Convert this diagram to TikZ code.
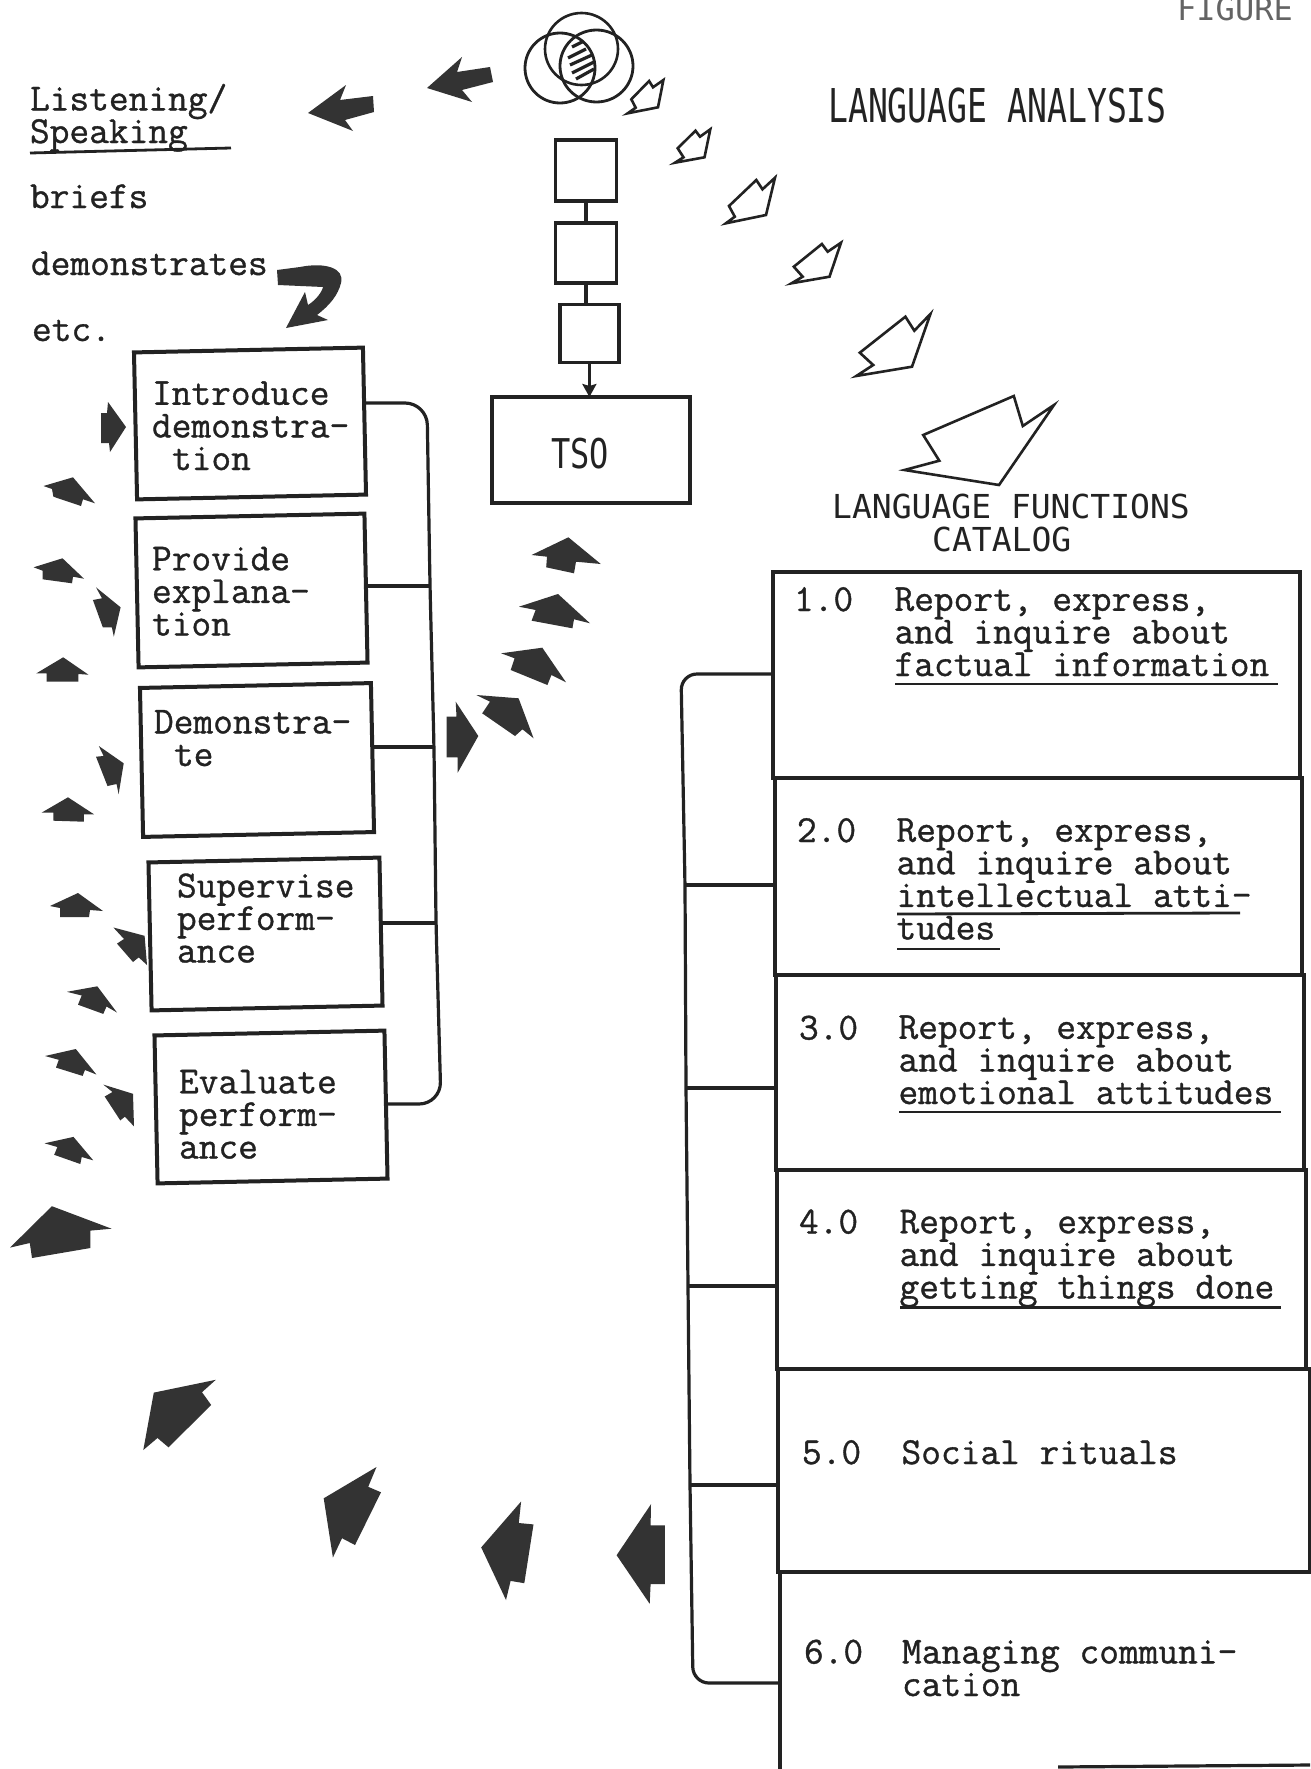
\documentclass[tikz,border=0pt]{standalone}
\usepackage{fontspec}
\usepackage{graphicx}
\usetikzlibrary{arrows.meta}
\setmonofont{Latin Modern Mono}[FakeBold=0.9]
\newfontfamily\headfont{DejaVu Sans Mono}
\definecolor{ink}{HTML}{222222}
\definecolor{arrowink}{HTML}{333333}
\newcommand{\twfont}{\ttfamily\fontsize{38.3}{32.6}\selectfont\lineskiplimit -100pt\relax}
\tikzset{
  x=1pt,y=-1pt,
  tw/.style={font=\twfont,text=ink,inner sep=0pt,outer sep=0pt,anchor=base west,align=left},
  head/.style={font=\headfont\fontsize{33}{33}\selectfont,text=ink,inner sep=0pt,anchor=base west},
  boxnode/.style={draw=ink,line width=4,inner sep=0pt,outer sep=0pt,rotate=1.2},
  smallbox/.style={draw=ink,line width=3.8,inner sep=0pt,outer sep=0pt},
  cellnode/.style={draw=ink,line width=3.2,inner sep=0pt,outer sep=0pt},
  wire/.style={draw=ink,line width=3.2},
  uline/.style={draw=ink,line width=2.8},
  solidarrow/.style={fill=arrowink,draw=none},
  openarrow/.style={draw=ink,fill=white,line width=2.6,line join=miter},
}
\begin{document}
\begin{tikzpicture}
\useasboundingbox (0,0) rectangle (1310,1769);
\fill[white] (0,0) rectangle (1310,1769);

% --- headings
\node[head,text=ink!70] (figure) at (1177,21) {\fontsize{32}{32}\selectfont FIGURE};
\node[head] (langanalysis) at (828,122) {\fontsize{46.6}{46.6}\selectfont\scalebox{0.71}[1]{LANGUAGE ANALYSIS}};
\node[head] (funcs) at (832,518) {LANGUAGE FUNCTIONS};
\node[head] (catalog) at (932,551) {CATALOG};

% --- left word list
\node[tw] (listening) at (30,143) {Listening/\\Speaking};
\draw[uline] (30,153) -- (231,148);
\node[tw] (briefs) at (30,208) {briefs};
\node[tw] (demos) at (31,275) {demonstrates};
\node[tw] (etc) at (32,341) {etc.};

% --- left boxes
\node[boxnode,minimum width=229,minimum height=147] (b1) at (250,423.5) {};
\node[boxnode,minimum width=229,minimum height=149] (b2) at (251.5,590.5) {};
\node[boxnode,minimum width=231,minimum height=149] (b3) at (257,760) {};
\node[boxnode,minimum width=231,minimum height=148] (b4) at (265.5,934) {};
\node[boxnode,minimum width=230,minimum height=148] (b5) at (271,1107) {};
\node[tw] (b1t) at (152,470) {Introduce\\demonstra-\\\hspace*{20pt}tion};
\node[tw] (b2t) at (152,635.5) {Provide\\explana-\\tion};
\node[tw] (b3t) at (154,766) {Demonstra-\\\hspace*{20pt}te};
\node[tw] (b4t) at (177,962.5) {Supervise\\perform-\\ance};
\node[tw] (b5t) at (179,1158.5) {Evaluate\\perform-\\ance};

% --- left bracket
\coordinate (busA) at (427,403);
\coordinate (bus2) at (430,586);
\coordinate (bus3) at (434,747);
\coordinate (bus4) at (436,923);
\coordinate (busB) at (441,1104);
\draw[wire,rounded corners=22pt] (b1.east |- busA) -- (busA) -- (bus2) -- (bus3) -- (bus4) -- (busB) -- (b5.east |- busB);
\draw[wire] (b2.east |- bus2) -- (bus2);
\draw[wire] (b3.east |- bus3) -- (bus3);
\draw[wire] (b4.east |- bus4) -- (bus4);

% --- centre chain
\node[smallbox,minimum width=61,minimum height=61] (s1) at (586,170.5) {};
\node[smallbox,minimum width=61,minimum height=60] (s2) at (586,253) {};
\node[smallbox,minimum width=59,minimum height=58] (s3) at (589.4,333.5) {};
\node[smallbox,minimum width=198,minimum height=106] (tso) at (590.7,450) {};
\node[head] (tsot) at (551,468) {\fontsize{41}{41}\selectfont\scalebox{0.78}[1]{TSO}};
\draw[wire] (s1.south) -- (s2.north);
\draw[wire] (s2.south) -- (s2.south |- s3.north);
\draw[wire,-{Stealth[length=13pt,width=14pt,inset=2pt]}] (s3.south) -- (s3.south |- tso.north);

% --- Venn sign
\begin{scope}
\clip (581.5,49) ellipse [x radius=36.5pt,y radius=36pt];
\clip (560,68) ellipse [x radius=35pt,y radius=35pt];
\clip (596.5,66) ellipse [x radius=36.5pt,y radius=36pt];
\draw[ink,line width=3.2] (572,47) -- (584,41);
\draw[ink,line width=3.2] (568,58) -- (586,49);
\draw[ink,line width=3.2] (570,65) -- (592,55);
\draw[ink,line width=3.2] (572,73) -- (594,62);
\draw[ink,line width=3.2] (576,79) -- (594,69);
\end{scope}
\draw[ink,line width=2.6] (581.5,49) ellipse [x radius=36.5pt,y radius=36pt];
\draw[ink,line width=2.8] (560,68) ellipse [x radius=35pt,y radius=35pt];
\draw[ink,line width=2.8] (596.5,66) ellipse [x radius=36.5pt,y radius=36pt];

% --- right table
\node[cellnode,minimum width=527,minimum height=206] (c1) at (1036.5,675) {};
\node[cellnode,minimum width=527,minimum height=197] (c2) at (1038.5,876.5) {};
\node[cellnode,minimum width=528,minimum height=195] (c3) at (1040,1072.5) {};
\node[cellnode,minimum width=529,minimum height=199] (c4) at (1041.5,1269.5) {};
\node[cellnode,minimum width=532,minimum height=203] (c5) at (1044,1470.5) {};
\node[cellnode,minimum width=550,minimum height=218] (c6) at (1055,1681) {};
\coordinate (botL) at (1058,1767);
\coordinate (botR) at (1310,1765);
\draw[wire] (botL) -- (botR);

\node[tw] (n1) at (794,611) {1.0};
\node[tw] (t1) at (894.5,676) {Report, express,\\and inquire about\\factual information};
\draw[uline] (895,684) -- (1278,684);
\node[tw] (n2) at (797,842) {2.0};
\node[tw] (t2) at (896.5,939.5) {Report, express,\\and inquire about\\intellectual atti-\\tudes};
\draw[uline] (897,914) -- (1240,913);
\draw[uline] (897,949) -- (1000,949);
\node[tw] (n3) at (799,1039.5) {3.0};
\node[tw] (t3) at (898.5,1104) {Report, express,\\and inquire about\\emotional attitudes};
\draw[uline] (899,1112) -- (1281,1112);
\node[tw] (n4) at (799,1233.5) {4.0};
\node[tw] (t4) at (899.5,1298.5) {Report, express,\\and inquire about\\getting things done};
\draw[uline] (900,1307.5) -- (1281,1307.5);
\node[tw] (n5) at (802,1464) {5.0};
\node[tw] (t5) at (901.5,1464) {Social rituals};
\node[tw] (n6) at (804,1663.5) {6.0};
\node[tw] (t6) at (902,1696) {Managing communi-\\cation};

% --- right bracket
\coordinate (r1) at (681,674);
\coordinate (r2) at (685,885);
\coordinate (r3) at (686,1088);
\coordinate (r4) at (688,1286);
\coordinate (r5) at (690,1485);
\coordinate (r6) at (693,1683);
\draw[wire,rounded corners=16pt] (c1.west |- r1) -- (r1) -- (r2) -- (r3) -- (r4) -- (r5) -- (r6) -- (c6.west |- r6);
\draw[wire] (c2.west |- r2) -- (r2);
\draw[wire] (c3.west |- r3) -- (r3);
\draw[wire] (c4.west |- r4) -- (r4);
\draw[wire] (c5.west |- r5) -- (r5);

% --- open arrows
\draw[openarrow] (627.7,113.3) -- (635.7,107.7) -- (631.3,99.3) -- (649.1,81) -- (653,87.3) -- (663.4,80) -- (658,107.3) -- cycle;
\draw[openarrow] (675,162.7) -- (683.5,157.3) -- (677.7,148.3) -- (695.5,130.7) -- (700,136.7) -- (710.3,129.3) -- (704.5,157.3) -- cycle;
\draw[openarrow] (725.9,223.3) -- (734.8,216.7) -- (729,206) -- (756.3,180) -- (762.5,189.3) -- (775,177.7) -- (766,215) -- cycle;
\draw[openarrow] (791.5,283.3) -- (802.7,276.7) -- (793.8,266.7) -- (821.9,244) -- (827.7,251.7) -- (841,242.7) -- (829.5,276.7) -- cycle;
\draw[openarrow] (856.3,376) -- (873.2,365) -- (859.8,352.7) -- (905.4,316.7) -- (914.3,330.7) -- (930.4,314) -- (912,366.7) -- cycle;
\draw[openarrow] (904.5,470) -- (939.3,460.7) -- (923.2,435) -- (1013.8,396) -- (1022.8,426) -- (1054,405) -- (999,485) -- cycle;

% --- solid arrows, top
\fill[solidarrow] (427,88) -- (462,57) -- (457,72) -- (490,67) -- (493,82) -- (462,90) -- (472,102) -- cycle;
\fill[solidarrow] (308,113) -- (346,85) -- (340,100) -- (373,96) -- (374,112) -- (345,120) -- (353,131) -- cycle;
\fill[solidarrow] (277,270) -- (300,267) .. controls (325,262) and (345,268) .. (341,283) .. controls (338,295) and (330,305) .. (317,315) -- (328,320) -- (286,328) -- (305,292) -- (308,305) .. controls (316,300) and (322,292) .. (323,287) -- (278,285) -- cycle;

% --- solid arrows, left
\fill[solidarrow] (101,413) -- (107,413) -- (108,402) -- (126,427) -- (110,452) -- (109,443) -- (101,443) -- cycle;
\fill[solidarrow] (43.5,486) -- (73,477.3) -- (95,503.3) -- (83,499.3) -- (81,506) -- (53.4,496.7) -- (52,489) -- cycle;
\fill[solidarrow] (33.6,567.3) -- (62.5,558.3) -- (84,578.7) -- (73,576.7) -- (72,583.3) -- (42.7,579.3) -- (42.7,570.7) -- cycle;
\fill[solidarrow] (96,587.3) -- (120.6,607.3) -- (113.8,636.7) -- (111.9,627.3) -- (102.8,627.3) -- (92.9,600) -- (102,598.3) -- cycle;
\fill[solidarrow] (36.4,673.3) -- (63.2,657.3) -- (88.5,674.7) -- (78.3,674) -- (78.3,681.7) -- (46.6,681.7) -- (46.6,673.3) -- cycle;
\fill[solidarrow] (98.8,746) -- (123.7,763.3) -- (118.6,794.3) -- (116.6,784) -- (107.5,786) -- (96,756.7) -- (103.6,756) -- cycle;
\fill[solidarrow] (41.5,812.7) -- (68,797.3) -- (94,814.3) -- (83.8,814.3) -- (83.8,821.7) -- (53.4,820.7) -- (53.4,812.7) -- cycle;
\fill[solidarrow] (50,906) -- (78,893) -- (103,911) -- (90,910) -- (89,917) -- (60,917) -- (60,908) -- cycle;
\fill[solidarrow] (113.4,927.5) -- (144.6,935.8) -- (147,965) -- (138.7,957.4) -- (133,962) -- (117,943.6) -- (124,939) -- cycle;
\fill[solidarrow] (67,991.8) -- (97.3,986.3) -- (117,1012.5) -- (106.5,1006.5) -- (103.3,1013.9) -- (78,1004.7) -- (81.7,995.5) -- cycle;
\fill[solidarrow] (45,1056) -- (75.8,1049) -- (96.4,1074.5) -- (85,1070) -- (82.6,1075.9) -- (56,1067.6) -- (58.8,1059.8) -- cycle;
\fill[solidarrow] (103.3,1084.6) -- (133,1093.8) -- (134,1126.4) -- (124.9,1116.7) -- (120.3,1120.4) -- (104.7,1096.5) -- (112.5,1092) -- cycle;
\fill[solidarrow] (44.5,1143.3) -- (73.5,1136.9) -- (93.2,1160.3) -- (81.7,1157) -- (80.3,1164) -- (54.2,1154.8) -- (57.4,1147) -- cycle;
\fill[solidarrow] (10,1247.6) -- (51.9,1206.2) -- (111.6,1228.7) -- (90.4,1230.6) -- (90.4,1248) -- (32,1258) -- (29.8,1243) -- cycle;

% --- solid arrows, bottom
\fill[solidarrow] (143.3,1450) -- (153.8,1392.6) -- (215.8,1379.8) -- (202,1392.2) -- (211.2,1405) -- (168.5,1447.3) -- (157.5,1438) -- cycle;
\fill[solidarrow] (332.9,1557.5) -- (323.7,1498.3) -- (376.5,1467) -- (368.2,1486.8) -- (381,1492.3) -- (355,1545) -- (342,1538.2) -- cycle;
\fill[solidarrow] (506,1600) -- (481.2,1547.4) -- (521.1,1501.5) -- (518.8,1523) -- (533.5,1524.4) -- (524.3,1583.2) -- (510.6,1580.9) -- cycle;
\fill[solidarrow] (649.7,1603.8) -- (616.6,1555.2) -- (651,1504.2) -- (650.6,1525.3) -- (664.8,1525.3) -- (664.8,1584.1) -- (650.6,1584.1) -- cycle;

% --- solid arrows, centre
\fill[solidarrow] (531.6,555) -- (568.4,537.3) -- (600.8,564) -- (576,561.7) -- (574,573.3) -- (546.2,567.3) -- (547,556.7) -- cycle;
\fill[solidarrow] (519,606.7) -- (558,594) -- (590,623.3) -- (574,619.3) -- (572.4,628.3) -- (531.6,620.7) -- (535.6,610) -- cycle;
\fill[solidarrow] (501.2,653.3) -- (542.3,647.7) -- (566,682.3) -- (551.4,675) -- (547.4,685) -- (510.7,670) -- (514.6,658.3) -- cycle;
\fill[solidarrow] (476.3,695) -- (518.6,698.3) -- (533.6,738.3) -- (522.5,729.3) -- (515,736) -- (482.2,713.3) -- (490,701.7) -- cycle;
\fill[solidarrow] (446.6,716.7) -- (456.5,716.7) -- (455.7,701.7) -- (478.3,736) -- (457.7,772.7) -- (457.7,757.3) -- (446.6,757.3) -- cycle;
\end{tikzpicture}
\end{document}
